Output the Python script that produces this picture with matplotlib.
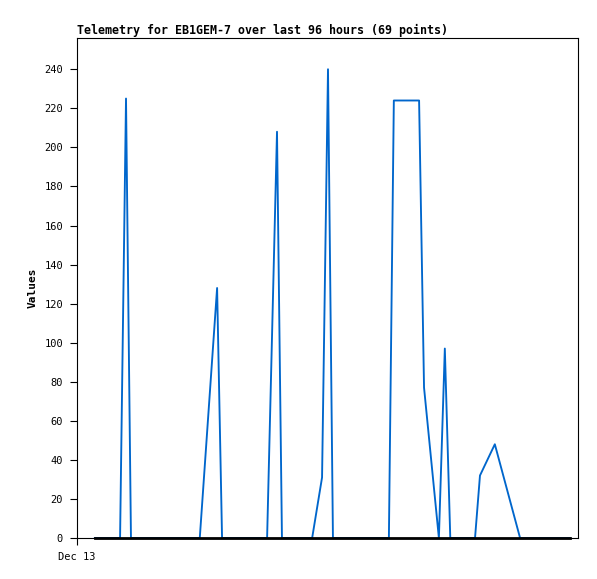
import matplotlib
matplotlib.use("Agg")
from matplotlib import pyplot as plt

# hours since Dec 13 00:00, and the telemetry values
hours = [3.6, 8.7, 9.9, 10.9, 24.8, 28.3, 29.3, 38.4, 40.4, 41.4,
         47.5, 49.5, 50.7, 51.7, 63.0, 64.0, 69.1, 70.1, 73.1, 74.3,
         75.4, 80.4, 81.4, 84.4, 89.5, 99.6]
values = [0, 0, 225, 0, 0, 128, 0, 0, 208, 0,
          0, 31, 240, 0, 0, 224, 224, 77, 0, 97,
          0, 0, 32, 48, 0, 0]
baseline = [0] * len(hours)

yticks = list(range(0, 241, 20))
xtick_pos = [0]
xtick_labels = ["Dec 13"]
title = "Telemetry for EB1GEM-7 over last 96 hours (69 points)"

plt.rcParams['font.family'] = ['DejaVu Sans Mono']

fig = plt.figure(figsize=(5.97, 5.79), dpi=100)
ax = fig.add_axes([77 / 597, 41 / 579, 501 / 597, 500 / 579])

ax.plot(hours, values, color='#0066cc', lw=1.35, clip_on=False)
ax.plot(hours, baseline, color='black', lw=2.0, clip_on=False, zorder=3)

ax.set_xlim(0, 101.2)
ax.set_ylim(0, 256)
ax.set_yticks(yticks)
ax.set_yticklabels([str(v) for v in yticks], fontsize=7.5)
ax.set_xticks(xtick_pos)
ax.set_xticklabels(xtick_labels, fontsize=7.5)
ax.tick_params(direction='out', length=5, width=0.8, pad=5)

ax.set_title(title, loc='left', fontsize=8.4, fontweight='bold', pad=3)
ax.set_ylabel("Values", fontsize=8, fontweight='bold', labelpad=5)

for s in ax.spines.values():
    s.set_linewidth(0.8)

fig.savefig("out.png", dpi=100)
